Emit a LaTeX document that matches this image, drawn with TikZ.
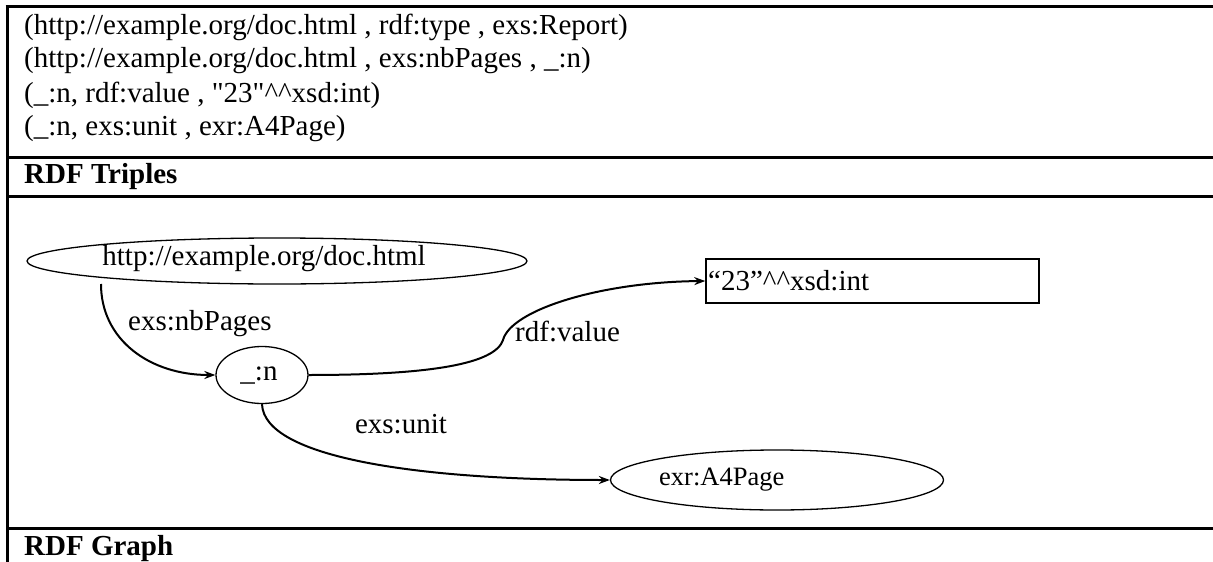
\documentclass[tikz,border=0pt]{standalone}
\usepackage{fontspec}
\setmainfont{Liberation Serif}[Ligatures=TeXOff]
\usetikzlibrary{shapes.geometric,arrows.meta}
\begin{document}
\begin{tikzpicture}[x=1pt,y=-1pt,
  txt/.style={font=\fontsize{29}{33}\selectfont, inner sep=0pt},
  hdr/.style={font=\fontsize{29}{33}\selectfont\bfseries, inner sep=0pt, anchor=west},
  rule/.style={line width=3pt},
  ell/.style={draw, ellipse, line width=1.3pt, inner sep=0pt},
  edge/.style={line width=2pt, -{Stealth[length=11pt,width=8pt]}},
  lbl/.style={font=\fontsize{29}{33}\selectfont, inner sep=0pt, anchor=west}]
\useasboundingbox (0,0) rectangle (1213,562);
% table rules
\coordinate (tl) at (7,6);
\coordinate (bl) at (7,562);
\draw[rule] (tl) -- (bl);
\draw[rule] (5.5,6) -- (1213,6);
\draw[rule] (7,157) -- (1213,157);
\draw[rule] (7,196) -- (1213,196);
\draw[rule] (7,528) -- (1213,528);
% triples
\node[txt, anchor=west] (t1) at (24,27) {(http://example.org/doc.html , rdf:type , exs:Report)};
\node[txt, anchor=west] (t2) at (24,61) {(http://example.org/doc.html , exs:nbPages , \_:n)};
\node[txt, anchor=west] (t3) at (24,95) {(\_:n, rdf:value , "23"\textasciicircum\textasciicircum xsd:int)};
\node[txt, anchor=west] (t4) at (24,129) {(\_:n, exs:unit , exr:A4Page)};
\node[hdr] (h1) at (24,177) {RDF Triples};
\node[hdr] (h2) at (24,549) {RDF Graph};
% graph nodes
\node[ell, minimum width=500pt, minimum height=46pt] (doc) at (277,261) {};
\node[txt] (doct) at (264,259) {http://example.org/doc.html};
\node[ell, minimum width=92pt, minimum height=57pt] (n) at (262,375) {};
\node[txt] (nt) at (259,376) {\_:n};
\node[draw, line width=1.5pt, minimum width=333pt, minimum height=44pt, inner sep=0pt] (box) at (872.5,281) {};
\node[txt, anchor=west] (boxt) at (708,281) {“23”\textasciicircum\textasciicircum xsd:int};
\node[ell, minimum width=333pt, minimum height=60pt] (a4) at (777,480) {};
\node[anchor=west, inner sep=0pt, font=\fontsize{26.5}{30}\selectfont] (a4t) at (659,480) {exr:A4Page};
% edges
\draw[edge] (101,284) .. controls (101,340) and (150,375) .. (n.west);
\node[lbl] (l1) at (128,324) {exs:nbPages};
\draw[edge] (n.east) .. controls (430,375) and (495,364) .. (503,340) .. controls (511,310) and (600,282) .. (box.west);
\node[lbl] (l2) at (515,331) {rdf:value};
\draw[edge] (n.south) .. controls (264,458) and (420,480) .. (a4.west);
\node[txt] (l3) at (401,424) {exs:unit};
\end{tikzpicture}
\end{document}
